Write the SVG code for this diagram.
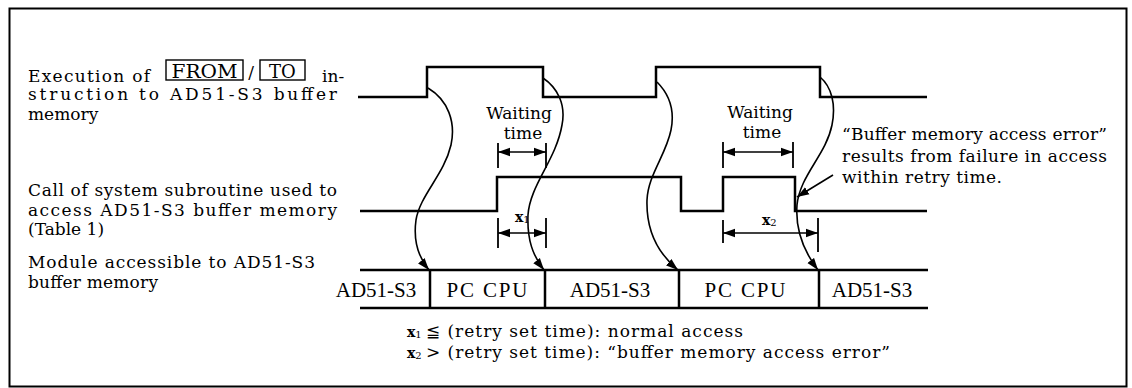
<svg xmlns="http://www.w3.org/2000/svg" width="1132" height="388" viewBox="0 0 1132 388">
<style>
text{font-family:"DejaVu Serif","Liberation Serif",serif;fill:#000}
.t{font-size:17px}
.b{font-family:"Liberation Serif","Times New Roman",serif;font-size:21px}
.w{font-size:17px}
.wave{fill:none;stroke:#000;stroke-width:2.5}
.cur{fill:none;stroke:#000;stroke-width:1.6}
.dim{fill:none;stroke:#000;stroke-width:1.6}
.tick{stroke:#000;stroke-width:1.8}
.box{fill:none;stroke:#000;stroke-width:1.4}
</style>
<defs>
<marker id="ah" markerUnits="userSpaceOnUse" markerWidth="14" markerHeight="10" refX="12" refY="5" orient="auto-start-reverse" viewBox="0 0 14 10">
<path d="M0,0.8 L12,5 L0,9.2 Z" fill="#000"/>
</marker>
</defs>
<rect x="9.5" y="8.5" width="1117" height="378" fill="#fff" stroke="#000" stroke-width="2"/>

<g id="label-exec">
<text class="t" x="28" y="82" textLength="122" lengthAdjust="spacing">Execution of</text>
<rect class="box" x="166" y="60" width="77" height="20"/>
<text class="t" x="204.5" y="77.5" text-anchor="middle" textLength="66" lengthAdjust="spacingAndGlyphs" style="font-size:18px">FROM</text>
<text class="t" x="251" y="78" text-anchor="middle">/</text>
<rect class="box" x="260" y="60" width="45" height="20"/>
<text class="t" x="282.5" y="77.5" text-anchor="middle" style="font-size:18px">TO</text>
<text class="t" x="322" y="82">in-</text>
<text class="t" x="28" y="100" textLength="309" lengthAdjust="spacing">struction to AD51-S3 buffer</text>
<text class="t" x="28" y="120">memory</text>
</g>

<g id="label-call">
<text class="t" x="28" y="196" textLength="309" lengthAdjust="spacing">Call of system subroutine used to</text>
<text class="t" x="28" y="216" textLength="309" lengthAdjust="spacing">access AD51-S3 buffer memory</text>
<text class="t" x="28" y="235">(Table 1)</text>
</g>

<g id="label-module">
<text class="t" x="28" y="268" textLength="287" lengthAdjust="spacing">Module accessible to AD51-S3</text>
<text class="t" x="28" y="288" textLength="130" lengthAdjust="spacing">buffer memory</text>
</g>

<g id="wave-exec">
<path class="wave" d="M358,97 H427 V67 H543 V97 H656 V67 H820 V97 H927"/>
</g>

<g id="wave-call">
<path class="wave" d="M360,211 H497 V177 H681 V211 H723 V177 H795 V211 H927"/>
</g>

<g id="band">
<path class="wave" d="M360,270 H928 M360,308 H928 M430,270 V308 M545,270 V308 M679,270 V308 M819,270 V308"/>
<text class="b" x="376" y="297" text-anchor="middle">AD51-S3</text>
<text class="b" x="487" y="297" text-anchor="middle" textLength="81" lengthAdjust="spacing">PC CPU</text>
<text class="b" x="610" y="297" text-anchor="middle">AD51-S3</text>
<text class="b" x="745" y="297" text-anchor="middle" textLength="81" lengthAdjust="spacing">PC CPU</text>
<text class="b" x="872" y="297" text-anchor="middle">AD51-S3</text>
</g>

<g id="waiting-1">
<text class="w" x="519" y="119" text-anchor="middle">Waiting</text>
<text class="w" x="523" y="139" text-anchor="middle">time</text>
</g>
<g id="waiting-2">
<text class="w" x="760" y="118" text-anchor="middle">Waiting</text>
<text class="w" x="762" y="138" text-anchor="middle">time</text>
</g>
<g id="label-x1">
<text x="515" y="222" style="font-size:14px;font-weight:bold">x<tspan style="font-size:10px;font-weight:normal" dy="1">1</tspan></text>
</g>
<g id="label-x2">
<text x="762" y="225" style="font-size:14px;font-weight:bold">x<tspan style="font-size:10px;font-weight:normal" dy="1">2</tspan></text>
</g>

<g id="callout">
<text class="t" x="842" y="140" textLength="265" lengthAdjust="spacing">“Buffer memory access error”</text>
<text class="t" x="842" y="162" textLength="265" lengthAdjust="spacing">results from failure in access</text>
<text class="t" x="842" y="183" textLength="160" lengthAdjust="spacing">within retry time.</text>
</g>

<g id="notes">
<text class="t" x="407" y="337" style="font-weight:bold;font-size:14px">x<tspan style="font-size:10px;font-weight:normal" dy="1">1</tspan></text>
<text class="t" x="426" y="337" textLength="317" lengthAdjust="spacing">≦ (retry set time): normal access</text>
<text class="t" x="407" y="358" style="font-weight:bold;font-size:14px">x<tspan style="font-size:10px;font-weight:normal" dy="1">2</tspan></text>
<text class="t" x="426" y="358" textLength="464" lengthAdjust="spacing">&gt; (retry set time): “buffer memory access error”</text>
</g>

<g id="connectors">
<path class="cur" marker-end="url(#ah)" d="M428,88 C448,100 456,122 451,145 C444,175 420,195 416,220 C413,242 419,258 429,270"/>
<path class="cur" marker-end="url(#ah)" d="M543,78 C558,88 566,105 562,125 C556,160 530,185 528,215 C527,240 533,256 544,270"/>
<path class="cur" marker-end="url(#ah)" d="M657,82 C670,95 675,110 671,130 C666,155 648,175 647,200 C646,232 660,255 678,270"/>
<path class="cur" marker-end="url(#ah)" d="M820,77 C832,87 836,105 832,125 C826,155 800,175 797,205 C795,232 805,253 818,270"/>
<path class="cur" marker-end="url(#ah)" d="M833,175 L797,197"/>
<path class="tick" d="M498,143 V168 M546,143 V168 M498,218 V248 M546,218 V248 M723,142 V168 M793,142 V168 M723,220 V243 M818,218 V252"/>
<path class="dim" marker-start="url(#ah)" marker-end="url(#ah)" d="M498,152 H546"/>
<path class="dim" marker-start="url(#ah)" marker-end="url(#ah)" d="M498,233 H546"/>
<path class="dim" marker-start="url(#ah)" marker-end="url(#ah)" d="M723,152 H793"/>
<path class="dim" marker-start="url(#ah)" marker-end="url(#ah)" d="M723,233 H818"/>
</g>
</svg>
